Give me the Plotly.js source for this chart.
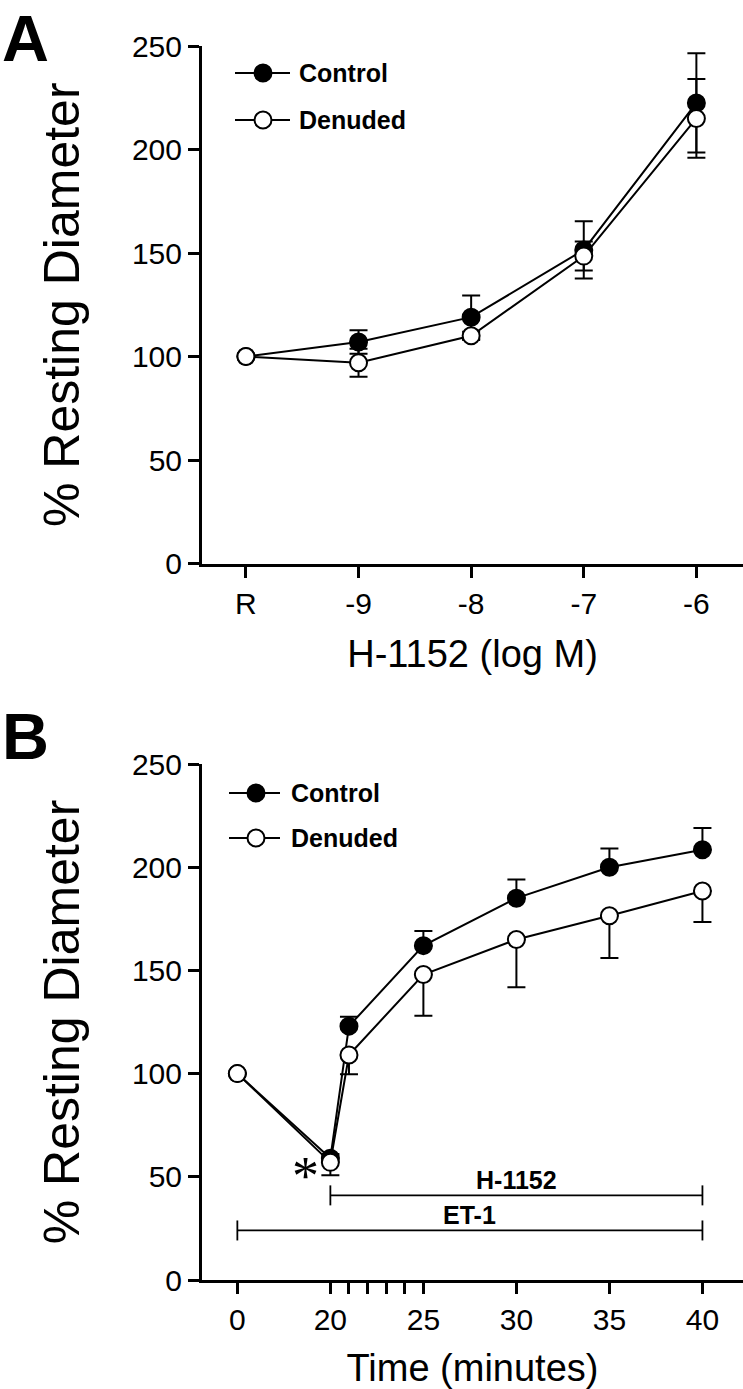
<!DOCTYPE html>
<html><head><meta charset="utf-8">
<script src="https://cdn.plot.ly/plotly-3.0.1.min.js"></script>
<style>html,body{margin:0;padding:0;background:#fff}#chart{width:743px;height:1389px}</style>
</head><body><div id="chart"></div>
<script>
// ---------- Panel A data ----------
const concLabels = ['R', '-9', '-8', '-7', '-6'];
const controlA = [100, 107, 119, 151.5, 222.5];
const controlAErr = [0, 5.7, 10.5, 13.8, 24];
const denudedA = [100, 97, 110, 148.5, 215];
const denudedAErr = [0, 6.8, 2, 7, 19];

// ---------- Panel B data ----------
const timeMin = [0, 20, 21, 25, 30, 35, 40];
const controlB = [100, 59, 123, 162, 185, 200, 208.5];
const controlBErr = [0, 2, 4.6, 7.1, 9, 9, 10.5];
const denudedB = [100, 57, 109, 148, 165, 176.5, 188.5];
const denudedBErr = [0, 6.2, 9.3, 20, 23.2, 20.5, 15];
const timeTicks = [0, 20, 21, 22, 23, 24, 25, 30, 35, 40];
const timeTickText = ['0', '20', '', '', '', '', '25', '30', '35', '40'];
const treatments = ['H-1152', 'ET-1'];
const treatStart = [20, 0];
const treatEnd = [40, 40];
const yTicks = [0, 50, 100, 150, 200, 250];
const seriesNames = ['Control', 'Denuded'];

// broken time axis: 0-20 min compressed
const brk = t => (t < 20 ? 15 + t * 0.25 : t);
const FONT = 'Liberation Sans, Arial, Helvetica, sans-serif';

const errStyle = {type: 'data', visible: true, thickness: 2, width: 9, color: 'black'};
function mk(x, y, name, fill, xa, ya, err) {
  return {
    type: 'scatter', mode: 'lines+markers', x: x, y: y, name: name,
    xaxis: xa, yaxis: ya, showlegend: false, cliponaxis: false,
    line: {color: 'black', width: 2},
    marker: {symbol: 'circle', size: 17, color: fill, line: {color: 'black', width: 2}},
    error_y: err
  };
}
const idxA = concLabels.map((_, i) => i);
const xB = timeMin.map(brk);

const traces = [
  mk(idxA, controlA, seriesNames[0], 'black', 'x', 'y', Object.assign({array: controlAErr, symmetric: true}, errStyle)),
  mk(idxA, denudedA, seriesNames[1], 'white', 'x', 'y', Object.assign({array: denudedAErr, symmetric: true}, errStyle)),
  mk(xB, controlB, seriesNames[0], 'black', 'x2', 'y2', Object.assign({array: controlBErr, arrayminus: controlB.map(() => 0), symmetric: false}, errStyle)),
  mk(xB, denudedB, seriesNames[1], 'white', 'x2', 'y2', Object.assign({array: denudedB.map(() => 0), arrayminus: denudedBErr, symmetric: false}, errStyle))
];

// pixel -> paper helpers (plot area: x 202..743, full height)
const W = 743, H = 1389, L = 202;
const px = v => (v - L) / (W - L);
const py = v => (H - v) / H;

const axCommon = {
  showline: true, linewidth: 3, linecolor: 'black', mirror: false,
  ticks: 'outside', ticklen: 11, tickwidth: 3, tickcolor: 'black',
  showgrid: false, zeroline: false, fixedrange: true,
  tickfont: {family: FONT, size: 30, color: 'black'}
};

const shapes = [];
const annotations = [];

// custom legends
function legend(yc, yc2, xl, xr, xm, xt) {
  [[yc, 'black', seriesNames[0]], [yc2, 'white', seriesNames[1]]].forEach(([yy, fill, name]) => {
    shapes.push({type: 'line', xref: 'paper', yref: 'paper', x0: px(xl), x1: px(xr), y0: py(yy), y1: py(yy), line: {color: 'black', width: 2}});
    shapes.push({type: 'circle', xref: 'paper', yref: 'paper', xsizemode: 'pixel', ysizemode: 'pixel',
      xanchor: px(xm), yanchor: py(yy), x0: -8.5, x1: 8.5, y0: -8.5, y1: 8.5,
      fillcolor: fill, line: {color: 'black', width: 2}});
    annotations.push({xref: 'paper', yref: 'paper', x: px(xt), y: py(yy), xanchor: 'left', yanchor: 'middle',
      showarrow: false, text: name, font: {family: FONT, size: 25, weight: 700, color: 'black'}});
  });
}
legend(73, 120, 235, 290, 263, 297);
legend(793, 838, 229, 280, 256, 289);

// treatment bars in panel B
const levels = [41, 24];
treatments.forEach((name, i) => {
  const x0 = brk(treatStart[i]), x1 = brk(treatEnd[i]);
  shapes.push({type: 'line', xref: 'x2', yref: 'y2', x0: x0, x1: x1, y0: levels[i], y1: levels[i], line: {color: 'black', width: 1.8}});
  [x0, x1].forEach(xx => shapes.push({type: 'line', xref: 'x2', yref: 'y2', ysizemode: 'pixel', yanchor: levels[i],
    x0: xx, x1: xx, y0: -10, y1: 10, line: {color: 'black', width: 1.8}}));
  annotations.push({xref: 'x2', yref: 'y2', x: (x0 + x1) / 2, y: levels[i], yshift: 15, xanchor: 'center', yanchor: 'middle',
    showarrow: false, text: name, font: {family: FONT, size: 25, weight: 700, color: 'black'}});
});

// asterisk at ET-1 constriction
annotations.push({xref: 'x2', yref: 'y2', x: brk(20), y: 56.2, xshift: -25, yshift: -12, xanchor: 'center', yanchor: 'middle',
  showarrow: false, text: '*', font: {family: 'Liberation Serif, Times New Roman, serif', size: 54, color: 'black'}});

// panel letters
annotations.push({xref: 'paper', yref: 'paper', x: px(0), y: py(0), xanchor: 'left', yanchor: 'top', showarrow: false,
  text: 'A', font: {family: FONT, size: 65, weight: 700, color: 'black'}});
annotations.push({xref: 'paper', yref: 'paper', x: px(0), y: py(698), xanchor: 'left', yanchor: 'top', showarrow: false,
  text: 'B', font: {family: FONT, size: 65, weight: 700, color: 'black'}});

const layout = {
  width: W, height: H,
  margin: {l: L, r: 0, t: 0, b: 0, pad: 0},
  paper_bgcolor: 'white', plot_bgcolor: 'white',
  showlegend: false,
  font: {family: FONT, color: 'black'},
  xaxis: Object.assign({}, axCommon, {domain: [0, 1], anchor: 'y', range: [-0.39, 4.414],
    tickmode: 'array', tickvals: idxA, ticktext: concLabels,
    title: {text: 'H-1152 (log M)', font: {family: FONT, size: 38, color: 'black'}, standoff: 22}}),
  yaxis: Object.assign({}, axCommon, {domain: [py(563.5), py(46)], anchor: 'x', range: [0, 250],
    tickmode: 'array', tickvals: yTicks,
    title: {text: '% Resting Diameter', font: {family: FONT, size: 50, color: 'black'}, standoff: 37}}),
  xaxis2: Object.assign({}, axCommon, {domain: [0, 1], anchor: 'y2', range: [13.1, 42.18],
    tickmode: 'array', tickvals: timeTicks.map(brk), ticktext: timeTickText,
    title: {text: 'Time (minutes)', font: {family: FONT, size: 38, color: 'black'}, standoff: 24}}),
  yaxis2: Object.assign({}, axCommon, {domain: [py(1280), py(764)], anchor: 'x2', range: [0, 250],
    tickmode: 'array', tickvals: yTicks,
    title: {text: '% Resting Diameter', font: {family: FONT, size: 50, color: 'black'}, standoff: 37}}),
  shapes: shapes,
  annotations: annotations
};

Plotly.newPlot('chart', traces, layout, {displayModeBar: false, staticPlot: true});
</script>
</body></html>
